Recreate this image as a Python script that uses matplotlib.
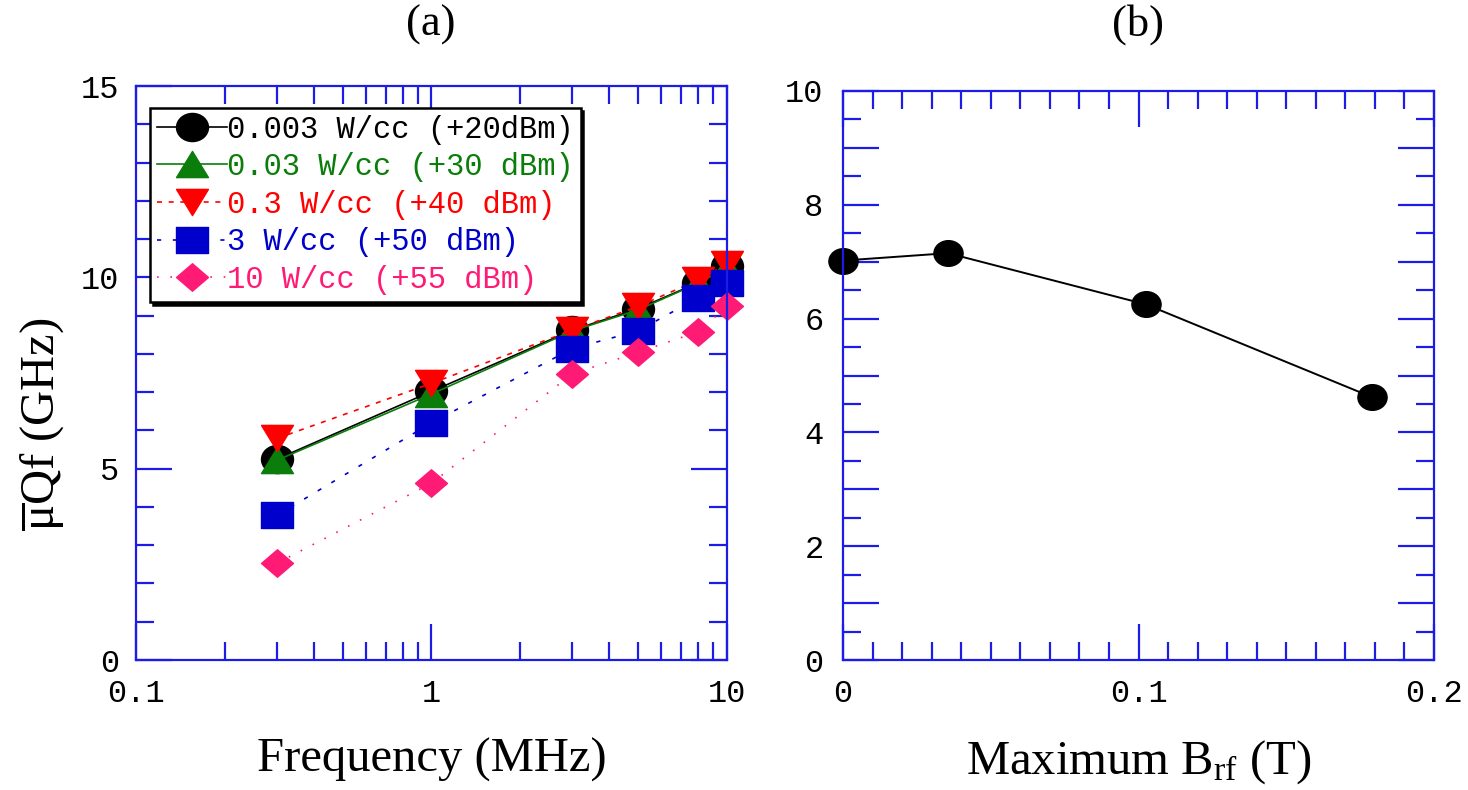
import matplotlib.pyplot as plt
from matplotlib.path import Path
from matplotlib.ticker import FixedLocator, FuncFormatter, NullFormatter, MultipleLocator

plt.rcParams['font.family'] = ['Liberation Mono', 'DejaVu Sans']
plt.rcParams['mathtext.fontset'] = 'custom'
plt.rcParams['mathtext.rm'] = 'Liberation Serif'
plt.rcParams['mathtext.it'] = 'Liberation Serif:italic'

# (a) muQf versus frequency for each rf power density
freq = [0.3, 1, 3, 5, 8, 10]
qf_0003 = [5.25, 7.02, 8.62, 9.18, 9.86, 10.30]
qf_003 = [5.22, 6.95, 8.60, 9.15, 9.85, 10.25]
qf_03 = [5.79, 7.23, 8.62, 9.24, 9.93, 10.35]
qf_3 = [3.78, 6.20, 8.14, 8.60, 9.47, 9.85]
qf_10 = [2.53, 4.62, 7.48, 8.04, 8.58, 9.24]
labels = ['0.003 W/cc (+20dBm)', '0.03 W/cc (+30 dBm)', '0.3 W/cc (+40 dBm)',
          '3 W/cc (+50 dBm)', '10 W/cc (+55 dBm)']

# (b) muQf versus maximum rf field
brf = [0.0, 0.0355, 0.1025, 0.179]
qf_b = [7.02, 7.15, 6.25, 4.62]

blue_axis = '#1c1ce6'
colors = ['black', '#0a7d0a', '#ff0000', '#0000cc', '#ff1a75']


def squashed(verts, ry):
    return Path([(x, y * ry) for x, y in verts], closed=True)


circ = Path.unit_circle()
m_circle = Path(circ.vertices * [1, 0.88], circ.codes)
m_up = squashed([(-1, -0.82), (1, -0.82), (0, 0.82), (-1, -0.82)], 1)
m_down = squashed([(-1, 0.82), (1, 0.82), (0, -0.82), (-1, 0.82)], 1)
m_square = squashed([(-1, -1), (1, -1), (1, 1), (-1, 1), (-1, -1)], 0.84)
m_diamond = squashed([(0, 1), (1, 0), (0, -1), (-1, 0), (0, 1)], 0.86)

fig = plt.figure(figsize=(14.68, 7.90), dpi=100)
ax1 = fig.add_axes([136 / 1468, 130 / 790, 591 / 1468, 574 / 790])
ax2 = fig.add_axes([843 / 1468, 130 / 790, 591 / 1468, 569 / 790])

series = [qf_0003, qf_003, qf_03, qf_3, qf_10]
markers = [m_circle, m_up, m_down, m_square, m_diamond]
styles = ['-', '-', (0, (3, 4)), (0, (2.5, 7)), (0, (1, 7))]
for vals, lab, c, m, ls in zip(series, labels, colors, markers, styles):
    ax1.plot(freq, vals, color=c, ls=ls, lw=1.2, marker=m, ms=23,
             mec=c, mfc=c, label=lab, clip_on=False)

ax2.plot(brf, qf_b, color='black', lw=1.4, marker=m_circle, ms=21, clip_on=False)

for ax in (ax1, ax2):
    for s in ax.spines.values():
        s.set_color(blue_axis)
        s.set_linewidth(1.6)
    ax.tick_params(which='both', direction='in', top=True, right=True,
                   color=blue_axis, width=1.6, labelcolor='black', labelsize=23)
    ax.tick_params(which='major', length=26)
    ax.tick_params(which='minor', length=13)

# left panel axes
ax1.set_xscale('log')
ax1.set_xlim(0.1, 10)
ax1.set_ylim(0, 15)
ax1.xaxis.set_major_locator(FixedLocator([0.1, 1, 10]))
ax1.xaxis.set_major_formatter(FuncFormatter(lambda v, p: {0.1: '0.1', 1: '1', 10: '10'}.get(round(v, 3), '')))
ax1.xaxis.set_minor_locator(FixedLocator([k * d for d in (0.1, 1) for k in range(2, 10)]))
ax1.xaxis.set_minor_formatter(NullFormatter())
ax1.yaxis.set_major_locator(MultipleLocator(5))
ax1.yaxis.set_minor_locator(MultipleLocator(1))
ax1.tick_params(axis='x', pad=14)
ax1.tick_params(axis='y', pad=12)

# right panel axes
ax2.set_xlim(0, 0.2)
ax2.set_ylim(0, 10)
ax2.xaxis.set_major_locator(FixedLocator([0, 0.1, 0.2]))
ax2.xaxis.set_major_formatter(FuncFormatter(lambda v, p: '0' if abs(v) < 1e-9 else f'{v:.1f}'))
ax2.xaxis.set_minor_locator(MultipleLocator(0.01))
ax2.yaxis.set_major_locator(MultipleLocator(1))
ax2.yaxis.set_major_formatter(FuncFormatter(lambda v, p: f'{int(round(v))}' if int(round(v)) % 2 == 0 else ''))
ax2.yaxis.set_minor_locator(MultipleLocator(0.5))
ax2.tick_params(axis='x', pad=14)
ax2.tick_params(axis='y', pad=14)

serif = 'Liberation Serif'
ax1.set_xlabel('Frequency (MHz)', family=serif, fontsize=35)
ax1.xaxis.set_label_coords(0.5, -0.135)
ax1.set_ylabel(r'$\overline{\mathrm{\mu}}$Qf (GHz)', family=serif, fontsize=35)
ax1.yaxis.set_label_coords(-0.118, 0.41)
ax2.set_xlabel(r'Maximum B$_{\mathrm{rf}}$ (T)', family=serif, fontsize=35)
ax2.xaxis.set_label_coords(0.5, -0.137)

fig.text(431 / 1468, 1 - 25 / 790, '(a)', ha='center', va='center', family=serif, fontsize=32)
fig.text(1138 / 1468, 1 - 25 / 790, '(b)', ha='center', va='center', family=serif, fontsize=32)

leg = ax1.legend(loc='upper left', bbox_to_anchor=(0.024, 0.962), borderaxespad=0,
                 prop={'family': 'Liberation Mono', 'size': 22}, fancybox=False,
                 shadow={'color': 'black', 'alpha': 1}, framealpha=1,
                 handlelength=2.3, handletextpad=0.0, labelspacing=0.25, borderpad=0.22)
leg.get_frame().set_edgecolor('black')
leg.get_frame().set_linewidth(1.8)
for t, c in zip(leg.get_texts(), colors):
    t.set_color(c)

fig.savefig('out.png', dpi=100)
